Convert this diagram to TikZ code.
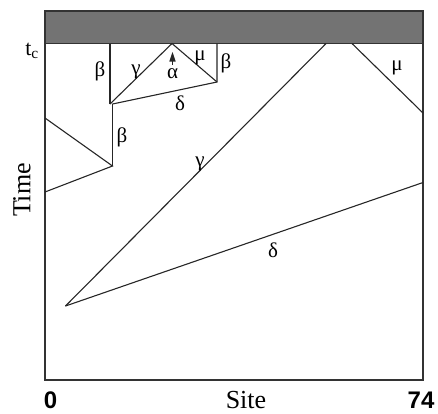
\documentclass[tikz,border=0pt]{standalone}
\usepackage{fontspec}
\setmainfont{Liberation Serif}
\newfontfamily\labsans{Liberation Sans}
\begin{document}
\begin{tikzpicture}[x=1pt,y=-1pt,
  edge/.style={draw=black!85,line width=1.1pt},
  frame/.style={draw=black!80,line width=1.3pt},
  greek/.style={font=\fontsize{21}{21}\selectfont,inner sep=0pt},
  axlab/.style={font=\fontsize{26}{26}\selectfont,inner sep=0pt},
  ticklab/.style={font=\labsans\bfseries\fontsize{24}{24}\selectfont,inner sep=0pt}]
\useasboundingbox (0,0) rectangle (438,413);
% frame corners
\coordinate (TL) at (45,11);
\coordinate (TR) at (423,11);
\coordinate (BL) at (45,43.5);
\coordinate (BR) at (423,43.5);
\coordinate (LL) at (45,380);
\coordinate (LR) at (423,380);
% band
\fill[black!55] (TL) rectangle (BR);
\draw[frame] (TL) rectangle (BR);
\draw[frame] (BL) -- (LL) -- (LR) -- (BR);
% points
\coordinate (p1) at (45,118);
\coordinate (p2) at (112.5,166);
\coordinate (p3) at (45,192);
\coordinate (p4) at (112.5,104);
\coordinate (p4b) at (110,104);
\coordinate (p5) at (110,43.5);
\coordinate (apex) at (172,43.5);
\coordinate (p6) at (217,82);
\coordinate (p7) at (217,43.5);
\coordinate (o) at (65.5,306);
\coordinate (g) at (326,43.5);
\coordinate (m1) at (352,43.5);
\coordinate (m2) at (423,113);
\coordinate (d2) at (423,182.5);
% lines
\draw[edge] (p1) -- (p2) -- (p3);
\draw[edge] (p2) -- (p4);
\draw[edge] (p4b) -- (p5);
\draw[edge] (p4b) -- (apex) -- (p6);
\draw[edge] (p4) -- (p6) -- (p7);
\draw[edge] (o) -- (g);
\draw[edge] (o) -- (d2);
\draw[edge] (m1) -- (m2);
% alpha arrow
\coordinate (atip) at (172.5,52);
\coordinate (abase) at (172.5,65);
\fill[black!85] (atip) -- (169.3,61.5) -- (175.7,61.5) -- cycle;
\draw[black!85,line width=1.2pt] (172.5,60) -- (abase);
% labels
\node[greek] (bL) at (100,71) {β};
\node[greek] (gS) at (136,72) {γ};
\node[greek] (al) at (172.5,74) {α};
\node[greek] (mS) at (200,58) {μ};
\node[greek] (bR) at (226,63) {β};
\node[greek] (dS) at (180,103) {δ};
\node[greek] (bM) at (122,137) {β};
\node[greek] (gB) at (200,164) {γ};
\node[greek] (mB) at (397,68) {μ};
\node[greek] (dB) at (273,250) {δ};
\node[font=\fontsize{22}{22}\selectfont,inner sep=0pt] (tc) at (32,51) {t\textsubscript{c}};
\node[axlab,rotate=90] (time) at (22,190) {Time};
\node[axlab] (site) at (246,400) {Site};
\node[ticklab] (zero) at (50.5,400) {0};
\node[ticklab] (sf) at (421,400) {74};
\end{tikzpicture}
\end{document}
